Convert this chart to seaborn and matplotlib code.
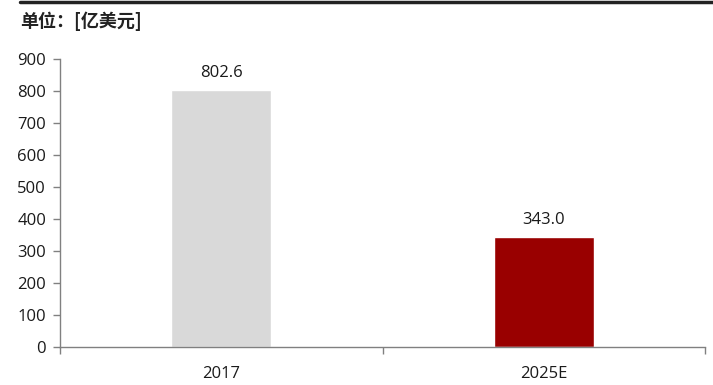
import matplotlib
matplotlib.use("Agg")
import matplotlib.pyplot as plt
import seaborn as sns
import pandas as pd
from matplotlib.lines import Line2D

categories = ["2017", "2025E"]
values = [802.6, 343.0]
colors = ["#d9d9d9", "#990000"]
yticks = [0, 100, 200, 300, 400, 500, 600, 700, 800, 900]

sns.set_style("white")
plt.rcParams['font.family'] = ['Open Sans', 'Noto Sans CJK SC', 'DejaVu Sans']

df = pd.DataFrame({"cat": categories, "val": values})

fig = plt.figure(figsize=(7.13, 3.85), dpi=100)
ax = fig.add_axes([60/713, 1-347/385, (705-60)/713, (347-59)/385])
sns.barplot(data=df, x="cat", y="val", hue="cat", palette=colors, width=0.31,
            legend=False, ax=ax, saturation=1)

ax.set_xlim(-0.5, 1.5)
ax.set_ylim(0, 900)
ax.set_yticks(yticks)
ax.set_xlabel("")
ax.set_ylabel("")
for s in ["top", "right"]:
    ax.spines[s].set_visible(False)
for s in ["left", "bottom"]:
    ax.spines[s].set_color("#808080")
    ax.spines[s].set_linewidth(1.0)

ax.set_xticks([0, 1])
ax.set_xticklabels(categories)
ax.set_xticks([-0.5, 0.5, 1.5], minor=True)
ax.tick_params(axis="x", which="major", bottom=True, length=0, pad=14, labelsize=12, labelcolor="#1a1a1a")
ax.tick_params(axis="x", which="minor", bottom=True, length=5, width=1, color="#808080", direction="out")
ax.tick_params(axis="y", left=True, length=5, width=1, color="#808080", direction="out",
               labelsize=12, labelcolor="#1a1a1a", pad=5)

for i, v in enumerate(values):
    ax.text(i, v + 28, f"{v:.1f}", ha="center", va="bottom", fontsize=12, color="#1a1a1a")

fig.add_artist(Line2D([20/713, 1.0], [1-1.5/385, 1-1.5/385], color="#222222", linewidth=2.5))
fig.text(20/713, 1-21/385, "单位：[亿美元]", fontsize=13, fontweight="bold",
         ha="left", va="center", color="#222222",
         family=['Noto Sans CJK SC', 'DejaVu Sans'])

fig.savefig("out.png", dpi=100)
